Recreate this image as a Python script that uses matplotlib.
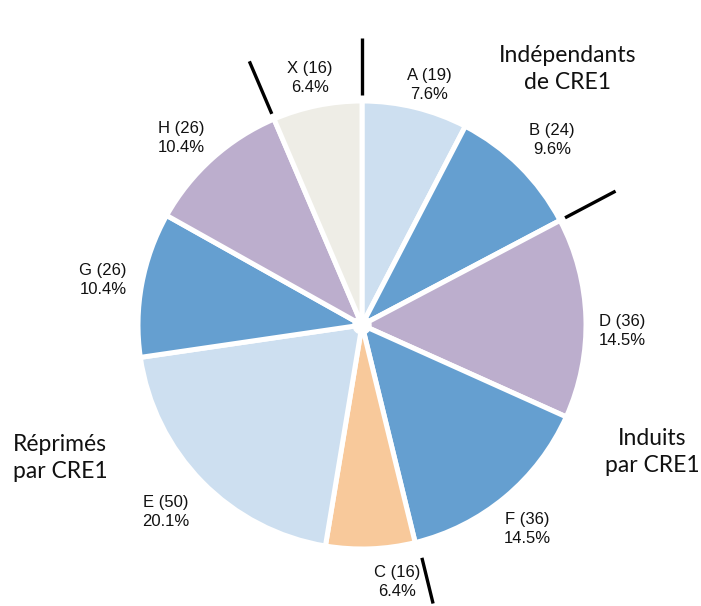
import numpy as np
import matplotlib
matplotlib.use("Agg")
import matplotlib.pyplot as plt

# slices, clockwise from 12 o'clock
names = ["A", "B", "D", "F", "C", "E", "G", "H", "X"]
counts = [19, 24, 36, 36, 16, 50, 26, 26, 16]
pcts = ["7.6%", "9.6%", "14.5%", "14.5%", "6.4%", "20.1%", "10.4%", "10.4%", "6.4%"]
colors = ["#cddff0", "#659fd0", "#bcaecd", "#659fd0", "#f8c99b",
          "#cddff0", "#659fd0", "#bcaecd", "#eeede6"]

# group labels and the slice boundaries that separate groups
groups = ["Indépendants\nde CRE1", "Induits\npar CRE1", "Réprimés\npar CRE1"]
sep_after = ["B", "F", "H", "X"]

# layout (pixels from top-left)
label_xy = [(429, 85), (552, 140), (622, 331), (527, 529), (397, 582),
            (166, 512), (103, 280), (181, 138), (310, 78)]
group_xy = [(568, 69), (652, 452), (60, 458)]

W, H = 701, 606
fig = plt.figure(figsize=(W / 100, H / 100), dpi=100)
ax = fig.add_axes([0, 0, 1, 1])

cx, cy, R = 362, H - 325, 224
wedges, _ = ax.pie(counts, colors=colors, startangle=90, counterclock=False,
                   center=(cx, cy), radius=R, frame=True,
                   wedgeprops=dict(edgecolor="white", linewidth=3.6))
ax.add_patch(plt.Circle((cx, cy), 9, color="white", zorder=5))
ax.set_xlim(0, W)
ax.set_ylim(0, H)
ax.axis("off")

for w, n, c, p, (lx, ly) in zip(wedges, names, counts, pcts, label_xy):
    ax.text(lx, H - ly, f"{n} ({c})\n{p}",
            ha="center", va="center", fontsize=12, linespacing=1.3,
            family="Liberation Sans", color="#111111")
    if n in sep_after:
        a = np.deg2rad(w.theta1)
        r0, r1 = R * 1.025, R * 1.28
        if n == "F":
            r0 = R * 1.07
        ax.plot([cx + 3 * (n == "F") + r0 * np.cos(a),
                 cx + 3 * (n == "F") + r1 * np.cos(a)],
                [cy + r0 * np.sin(a), cy + r1 * np.sin(a)],
                color="black", lw=2.4, solid_capstyle="butt")

for g, (gx, gy) in zip(groups, group_xy):
    ax.text(gx, H - gy, g, ha="center", va="center", fontsize=16.5,
            family="Lato", linespacing=1.3, color="#111111")

fig.savefig("out.png", dpi=100)
